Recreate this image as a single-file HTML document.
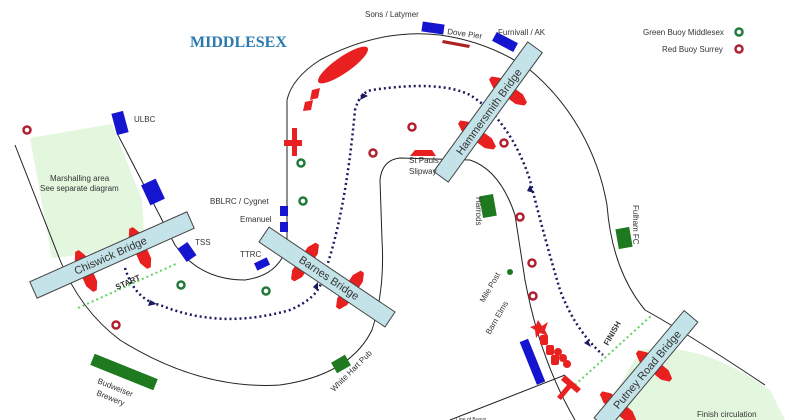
<!DOCTYPE html>
<html><head><meta charset="utf-8"><style>
html,body{margin:0;padding:0;background:#fff;}
svg{display:block;font-family:"Liberation Sans",sans-serif;}
</style></head><body>
<svg width="800" height="420" viewBox="0 0 800 420" xmlns="http://www.w3.org/2000/svg">
<defs>
<polygon id="pier" points="-22,-2 -14,-6 14,-6 22,-2 22,2 14,6 -14,6 -22,2" fill="#e82020"/>
</defs>
<rect width="800" height="420" fill="#fff"/>
<polygon points="30,138 112,124 142,200 145,248 52,258" fill="#e3f7df"/>
<path d="M640,350 Q700,340 770,390 L785,420 L600,420 Z" fill="#e3f7df"/>
<g fill="none" stroke="#222" stroke-width="1">
<path d="M15,145 L60,260 Q80,310 120,340 Q200,390 280,385 Q350,375 372,330 Q385,290 382,240 L380,180 Q382,160 400,158 L470,160 Q500,170 515,215 L525,280 Q540,360 575,420"/>
<path d="M118,135 L175,245 Q200,280 245,280 Q280,275 287,245 L287,100 Q292,78 320,60 Q380,28 440,35 Q490,42 530,70 Q560,95 580,130 Q600,165 607,205 Q612,270 645,310 Q690,335 765,385"/>
<path d="M450,420 L565,375"/>
</g>
<g fill="none" stroke="#1a1a5e" stroke-width="2.5" stroke-dasharray="2,3">
<path d="M125,268 Q135,300 160,305 Q220,330 290,310 Q318,298 322,280 Q345,220 355,110 Q360,92 372,90 Q440,80 470,95 Q510,120 530,180 Q545,240 560,290 Q575,330 603,355"/>
</g>
<g fill="#1a1a5e">
<polygon points="150,300 157,304 148,306"/><polygon points="313,287 318,282 318,291"/>
<polygon points="362,93 368,96 360,100"/><polygon points="530,185 534,193 527,191"/><polygon points="588,340 591,347 584,343"/>
</g>
<g stroke="#5fd35f" stroke-width="2" stroke-dasharray="2,3">
<line x1="78" y1="308" x2="178" y2="263"/><line x1="575" y1="385" x2="652" y2="315"/>
</g>
<use href="#pier" transform="translate(86,271) rotate(66)"/>
<use href="#pier" transform="translate(140,248) rotate(66)"/>
<use href="#pier" transform="translate(305,262) rotate(-56)"/>
<use href="#pier" transform="translate(350,290) rotate(-56)"/>
<use href="#pier" transform="translate(508,91) rotate(36)"/>
<use href="#pier" transform="translate(477,135) rotate(36)"/>
<use href="#pier" transform="translate(654,366) rotate(40)"/>
<use href="#pier" transform="translate(618,407) rotate(40)"/>
<g fill="#c4e3e8" stroke="#444" stroke-width="1">
<rect x="-86" y="-9" width="172" height="18" transform="translate(112,255) rotate(-24)"/>
<rect x="-76" y="-9" width="152" height="18" transform="translate(327,277) rotate(34)"/>
<rect x="-80" y="-9" width="160" height="18" transform="translate(488,112) rotate(-54)"/>
<rect x="-70" y="-9" width="140" height="18" transform="translate(646,370) rotate(-50)"/>
</g>
<g font-size="11" fill="#333">
<text transform="translate(112,259) rotate(-24)" text-anchor="middle">Chiswick Bridge</text>
<text transform="translate(327,281) rotate(34)" text-anchor="middle">Barnes Bridge</text>
<text transform="translate(492,114) rotate(-54)" text-anchor="middle">Hammersmith Bridge</text>
<text transform="translate(650,372) rotate(-50)" text-anchor="middle">Putney Road Bridge</text>
</g>
<g fill="#e82020">
<ellipse cx="343" cy="65" rx="30" ry="8" transform="rotate(-35 343 65)"/>
<polygon points="312,90 320,88 318,98 310,100"/><polygon points="305,102 313,100 311,110 303,111"/>
<path d="M292,128 h5 v12 h5 v6 h-5 v10 h-5 v-10 h-8 v-6 h8z"/>
<polygon points="538,320 542,326 548,322 545,330 548,336 540,333 536,338 535,330 530,327 536,325"/>
<rect x="540" y="335" width="8" height="10" rx="2"/><rect x="546" y="345" width="8" height="10" rx="2"/><rect x="551" y="355" width="8" height="10" rx="2"/>
<circle cx="558" cy="352" r="4"/><circle cx="563" cy="358" r="4"/><circle cx="567" cy="364" r="4"/>
<path d="M565,375 l16,14 l-4,4 l-6,-5 l-10,12 l-4,-3 l10,-12 l-6,-5z"/>
<polygon points="415,150 432,150 436,156 410,156"/>
</g>
<polygon points="443,40 470,45 469,48 442,43" fill="#b02020"/>
<g fill="#1515d0">
<rect x="-11" y="-5" width="22" height="10" transform="translate(433,28) rotate(8)"/>
<rect x="-12" y="-5" width="24" height="10" transform="translate(505,42) rotate(28)"/>
<rect x="-6" y="-11" width="12" height="22" transform="translate(120,123) rotate(-15)"/>
<rect x="-8" y="-11" width="16" height="22" transform="translate(153,192) rotate(-25)"/>
<rect x="-6" y="-8" width="12" height="16" transform="translate(187,252) rotate(-35)"/>
<rect x="280" y="206" width="8" height="10"/><rect x="280" y="222" width="8" height="10"/>
<rect x="-7" y="-4" width="14" height="8" transform="translate(262,264) rotate(-25)"/>
<rect x="-4" y="-23" width="9" height="46" transform="translate(532,362) rotate(-22)"/>
</g>
<g fill="#1f7a1f">
<rect x="-7" y="-11" width="14" height="22" transform="translate(488,206) rotate(-10)"/>
<rect x="-7" y="-10" width="14" height="20" transform="translate(624,238) rotate(-10)"/>
<rect x="-34" y="-6" width="68" height="12" transform="translate(124,372) rotate(22)"/>
<rect x="-8" y="-6" width="16" height="12" transform="translate(341,364) rotate(-30)"/>
</g>
<circle cx="510" cy="272" r="3" fill="#1f7a1f"/>
<g fill="none" stroke-width="2.5">
<g stroke="#b02030"><circle cx="27" cy="130" r="3.5"/><circle cx="116" cy="325" r="3.5"/><circle cx="373" cy="153" r="3.5"/><circle cx="412" cy="127" r="3.5"/><circle cx="504" cy="143" r="3.5"/><circle cx="520" cy="217" r="3.5"/><circle cx="532" cy="263" r="3.5"/><circle cx="533" cy="296" r="3.5"/><circle cx="739" cy="49" r="3.5"/></g>
<g stroke="#1f7a3a"><circle cx="301" cy="163" r="3.5"/><circle cx="303" cy="201" r="3.5"/><circle cx="181" cy="285" r="3.5"/><circle cx="266" cy="291" r="3.5"/><circle cx="739" cy="32" r="3.5"/></g>
</g>
<text x="190" y="47" font-family="Liberation Serif,serif" font-weight="bold" font-size="16" fill="#2a7ab0">MIDDLESEX</text>
<g font-size="8" fill="#333">
<text x="365" y="17">Sons / Latymer</text>
<text x="447" y="34" transform="rotate(8 447 34)">Dove Pier</text>
<text x="498" y="35">Furnivall / AK</text>
<text x="643" y="35">Green Buoy Middlesex</text>
<text x="662" y="52">Red Buoy Surrey</text>
<text x="134" y="122">ULBC</text>
<text x="50" y="181">Marshalling area</text>
<text x="40" y="191">See separate diagram</text>
<text x="210" y="204">BBLRC  / Cygnet</text>
<text x="240" y="222">Emanuel</text>
<text x="195" y="245">TSS</text>
<text x="240" y="257">TTRC</text>
<text x="409" y="163">St Pauls</text>
<text x="409" y="174">Slipway</text>
<text transform="translate(476,197) rotate(90)">Harrods</text>
<text transform="translate(633,205) rotate(90)">Fulham FC</text>
<text transform="translate(484,303) rotate(-60)">Mile Post</text>
<text transform="translate(490,335) rotate(-60)">Barn Elms</text>
<text transform="translate(97,383) rotate(22)">Budweiser</text>
<text transform="translate(96,395) rotate(22)">Brewery</text>
<text transform="translate(334,392) rotate(-45)">White Hart Pub</text>
<text x="697" y="417">Finish circulation</text>
<text x="456" y="421" font-size="5">Line of Buoys</text>
<text transform="translate(117,290) rotate(-24)" font-weight="bold">START</text>
<text transform="translate(608,346) rotate(-60)" font-weight="bold">FINISH</text>
</g>
</svg>
</body></html>
